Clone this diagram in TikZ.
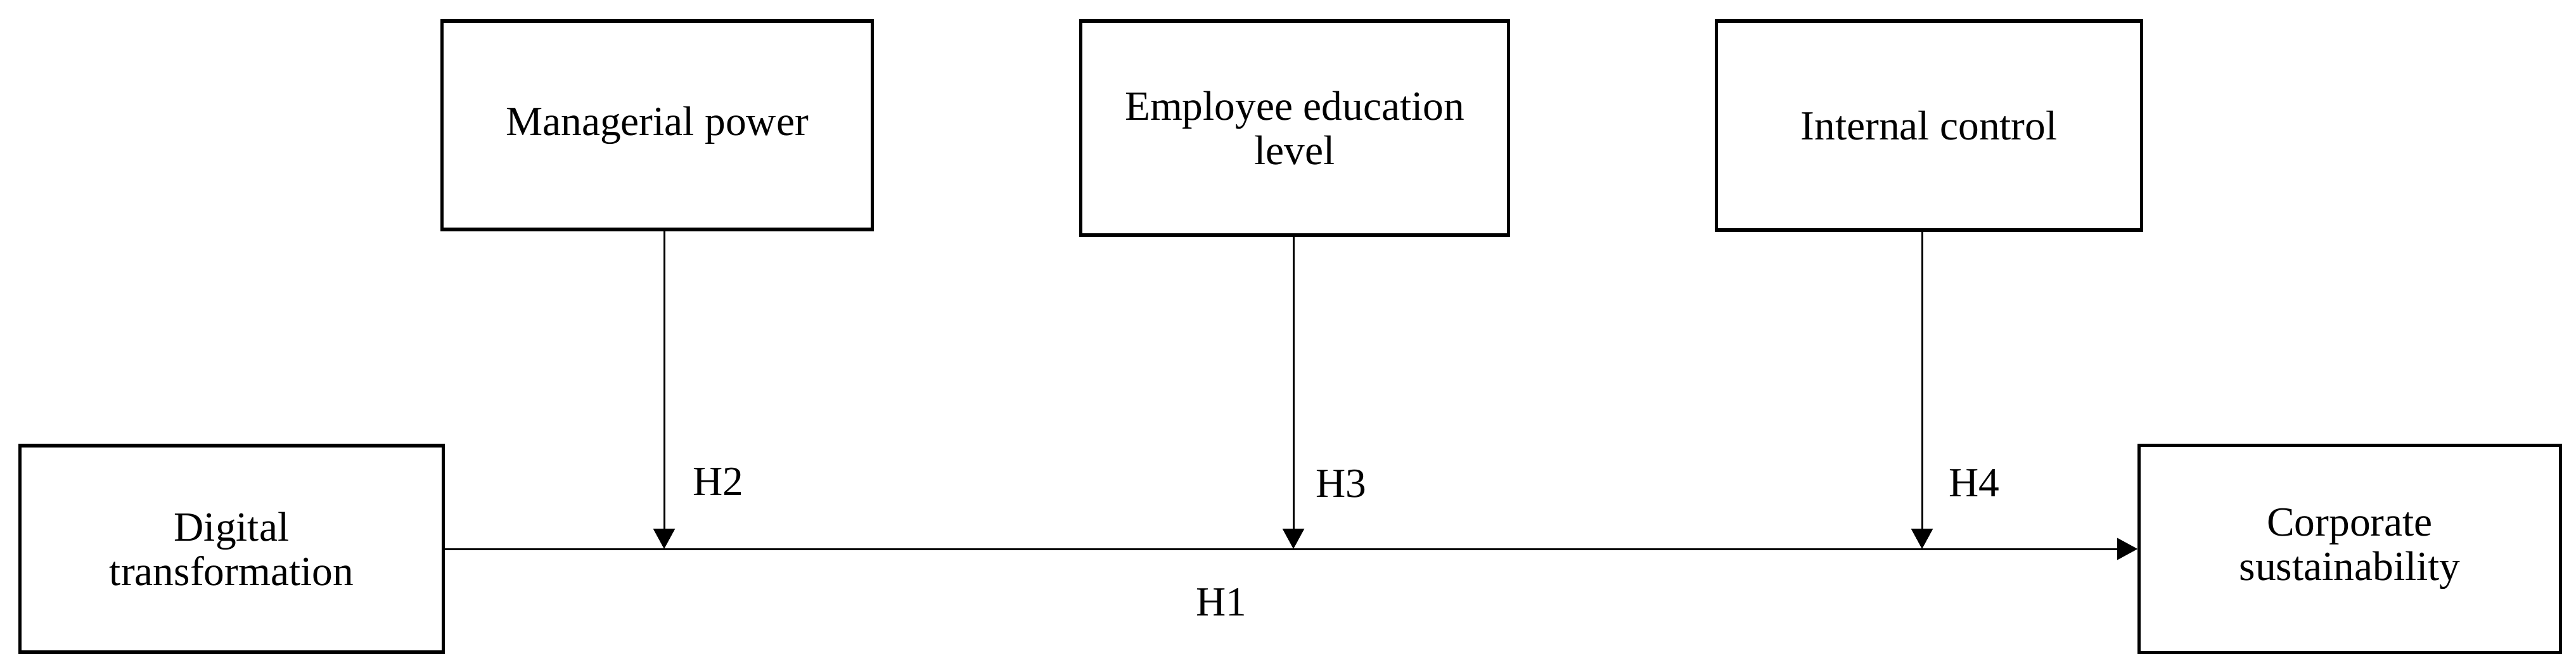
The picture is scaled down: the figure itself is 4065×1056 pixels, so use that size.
\documentclass[tikz,border=0pt]{standalone}
\usepackage{fontspec}
\setmainfont{Liberation Serif}
\usetikzlibrary{arrows.meta}
\tikzset{
  varbox/.style={draw=black, line width=1.5pt, fill=white, align=center, inner sep=0pt,
    font=\fontsize{18.6}{20}\selectfont},
  link/.style={line width=0.85pt, -{Triangle[length=0.32cm, width=0.34cm]}},
  hyp/.style={anchor=base west, inner sep=0pt, font=\fontsize{18.6}{20}\selectfont}
}
\begin{document}
\begin{tikzpicture}[x=0.01cm, y=-0.01cm]
\useasboundingbox (0,0) rectangle (4065,1056);
% boxes
\node[varbox, minimum width=6.78cm, minimum height=3.29cm] (mp) at (1037,197.5) {Managerial power};
\node[varbox, minimum width=6.74cm, minimum height=3.38cm] (eel) at (2043,202) {Employee education\\level};
\node[varbox, minimum width=6.70cm, minimum height=3.30cm] (ic) at (3044,198) {Internal control};
\node[varbox, minimum width=6.67cm, minimum height=3.26cm] (dt) at (365.5,866) {Digital\\transformation};
\node[varbox, minimum width=6.64cm, minimum height=3.27cm] (cs) at (3708,866) {Corporate\\sustainability};
% junction points on the main path
\coordinate (j2) at (1048,866);
\coordinate (j3) at (2041,866);
\coordinate (j4) at (3033,866);
% main effect
\draw[link] (dt.east) -- (cs.west);
% moderators
\draw[link] (mp.south -| j2) -- (j2);
\draw[link] (eel.south -| j3) -- (j3);
\draw[link] (ic.south -| j4) -- (j4);
% labels
\node[hyp] (h2) at (1093,781) {H2};
\node[hyp] (h3) at (2076,784) {H3};
\node[hyp] (h4) at (3075,783) {H4};
\node[hyp] (h1) at (1887,971) {H1};
\end{tikzpicture}
\end{document}
